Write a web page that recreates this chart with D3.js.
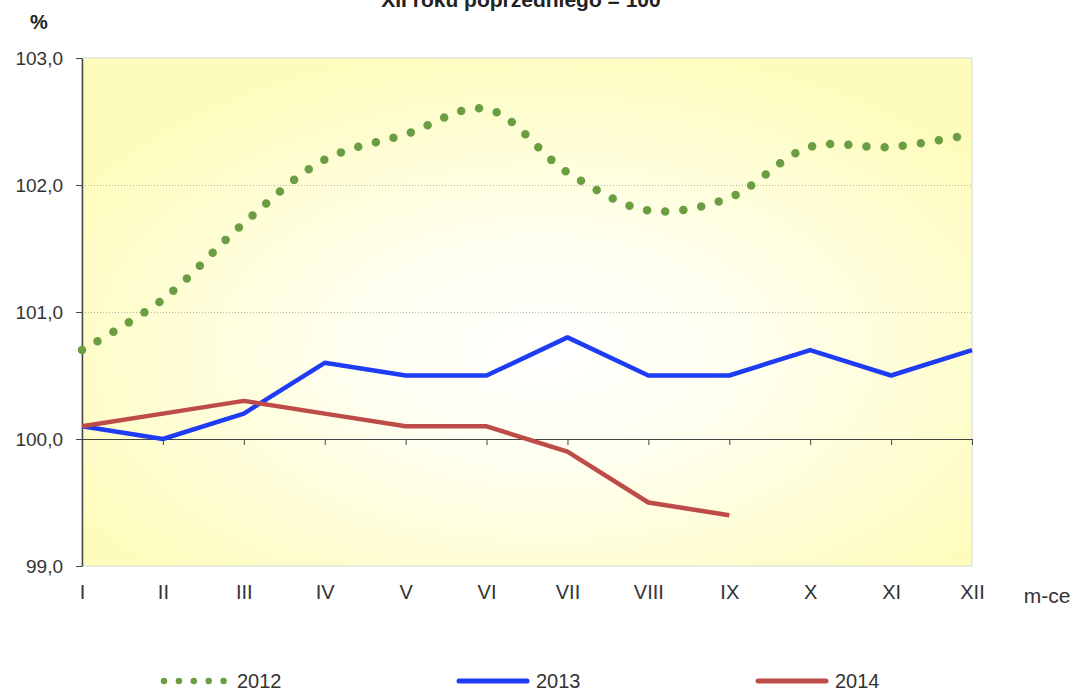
<!DOCTYPE html>
<html>
<head>
<meta charset="utf-8">
<script src="https://cdn.jsdelivr.net/npm/d3@7"></script>
<style>
  body { margin: 0; background: #fff; }
  svg { display: block; font-family: "Liberation Sans", Arial, sans-serif; }
  .axis text { fill: #333; }
  .axis path, .axis line { stroke: #444; }
</style>
</head>
<body>
<div id="chart"></div>
<script>
const months = ['I', 'II', 'III', 'IV', 'V', 'VI', 'VII', 'VIII', 'IX', 'X', 'XI', 'XII'];
const y_ticks = [99, 100, 101, 102, 103];

const vals_2012 = [100.7, 101.1, 101.7, 102.2, 102.4, 102.6, 102.1, 101.8, 101.9, 102.3, 102.3, 102.4];
const vals_2013 = [100.1, 100.0, 100.2, 100.6, 100.5, 100.5, 100.8, 100.5, 100.5, 100.7, 100.5, 100.7];
const vals_2014 = [100.1, 100.2, 100.3, 100.2, 100.1, 100.1, 99.9, 99.5, 99.4];

const series_names = ['2012', '2013', '2014'];
const series_colors = ['#6b9e43', '#1f3cf5', '#bd4b48'];

const width = 1079, height = 695;

const x = d3.scalePoint().domain(months).range([82, 972]);
const y = d3.scaleLinear().domain([99, 103]).range([566, 58]);

const svg = d3.select('#chart').append('svg')
  .attr('width', width)
  .attr('height', height);

svg.append('rect').attr('width', width).attr('height', height).attr('fill', '#fff');

// plot background, yellow edges fading to white in the middle
const defs = svg.append('defs');
const grad = defs.append('radialGradient')
  .attr('id', 'plot_bg')
  .attr('cx', '0.52').attr('cy', '0.58').attr('r', '0.62');
grad.append('stop').attr('offset', '0%').attr('stop-color', '#ffffff');
grad.append('stop').attr('offset', '35%').attr('stop-color', '#fffff0');
grad.append('stop').attr('offset', '100%').attr('stop-color', '#fefcbc');

svg.append('rect')
  .attr('x', x.range()[0])
  .attr('y', y.range()[1])
  .attr('width', x.range()[1] - x.range()[0])
  .attr('height', y.range()[0] - y.range()[1])
  .attr('fill', 'url(#plot_bg)')
  .attr('stroke', '#d8d8d0')
  .attr('stroke-width', 1);

// dotted gridlines
svg.append('g')
  .selectAll('line')
  .data([101, 102])
  .enter()
  .append('line')
    .attr('x1', x.range()[0])
    .attr('x2', x.range()[1])
    .attr('y1', (d) => y(d) + 0.5)
    .attr('y2', (d) => y(d) + 0.5)
    .attr('stroke', '#b8b8b0')
    .attr('stroke-width', 1)
    .attr('stroke-dasharray', '1,2');

// y axis
const fmt = (d) => d3.format('.1f')(d).replace('.', ',');
const y_ax = svg.append('g')
  .attr('class', 'axis')
  .attr('transform', 'translate(' + x.range()[0] + ',0)')
  .call(d3.axisLeft(y).tickValues(y_ticks).tickFormat(fmt).tickSize(6).tickPadding(13).tickSizeOuter(0));
y_ax.select('.domain').attr('stroke', '#555').attr('stroke-width', 1.5);
y_ax.selectAll('text').style('font-size', '19px');

// x axis line at 100 with ticks
const x_ax = svg.append('g')
  .attr('class', 'axis')
  .attr('transform', 'translate(0,' + y(100) + ')')
  .call(d3.axisBottom(x).tickFormat('').tickSize(6).tickSizeOuter(0));
x_ax.select('.domain').attr('stroke', '#222');

// month labels under the plot
const x_lab = svg.append('g')
  .attr('class', 'axis')
  .attr('transform', 'translate(0,' + y.range()[0] + ')')
  .call(d3.axisBottom(x).tickSize(0).tickPadding(19));
x_lab.select('.domain').remove();
x_lab.selectAll('text').style('font-size', '20px');

svg.append('text')
  .attr('x', 1047).attr('y', 603)
  .attr('text-anchor', 'middle')
  .style('font-size', '21px')
  .attr('fill', '#333')
  .text('m-ce');

svg.append('text')
  .attr('x', 39).attr('y', 29)
  .attr('text-anchor', 'middle')
  .style('font-size', '20px')
  .style('font-weight', 'bold')
  .attr('fill', '#222')
  .text('%');

svg.append('text')
  .attr('x', 521).attr('y', 7)
  .attr('text-anchor', 'middle')
  .style('font-size', '21px')
  .style('font-weight', 'bold')
  .attr('fill', '#222')
  .text('XII roku poprzedniego = 100');

// series
const smooth_line = d3.line()
  .x((d, i) => x(months[i]))
  .y((d) => y(d))
  .curve(d3.curveCatmullRom.alpha(0.5));

const straight_line = d3.line()
  .x((d, i) => x(months[i]))
  .y((d) => y(d));

svg.append('path')
  .attr('d', smooth_line(vals_2012))
  .attr('fill', 'none')
  .attr('stroke', series_colors[0])
  .attr('stroke-width', 8.5)
  .attr('stroke-linecap', 'round')
  .attr('stroke-dasharray', '0,18.2');

svg.append('path')
  .attr('d', straight_line(vals_2013))
  .attr('fill', 'none')
  .attr('stroke', series_colors[1])
  .attr('stroke-width', 4.5)
  .attr('stroke-linejoin', 'round');

svg.append('path')
  .attr('d', straight_line(vals_2014))
  .attr('fill', 'none')
  .attr('stroke', series_colors[2])
  .attr('stroke-width', 4.5)
  .attr('stroke-linejoin', 'round');

// legend
const legend_x = [164, 457, 756];
const leg = svg.append('g').attr('transform', 'translate(0,681)');
series_names.forEach(function(name, i) {
  const g = leg.append('g').attr('transform', 'translate(' + legend_x[i] + ',0)');
  if (i == 0) {
    g.append('line')
      .attr('x1', 0).attr('x2', 60).attr('y1', 0).attr('y2', 0)
      .attr('stroke', series_colors[i])
      .attr('stroke-width', 6.5)
      .attr('stroke-linecap', 'round')
      .attr('stroke-dasharray', '0,14.9');
  } else {
    g.append('line')
      .attr('x1', 2).attr('x2', 70).attr('y1', 0).attr('y2', 0)
      .attr('stroke', series_colors[i])
      .attr('stroke-width', 5)
      .attr('stroke-linecap', 'round');
  }
  g.append('text')
    .attr('x', i == 0 ? 73 : 79).attr('y', 7)
    .style('font-size', '20px')
    .attr('fill', '#333')
    .text(name);
});
</script>
</body>
</html>
